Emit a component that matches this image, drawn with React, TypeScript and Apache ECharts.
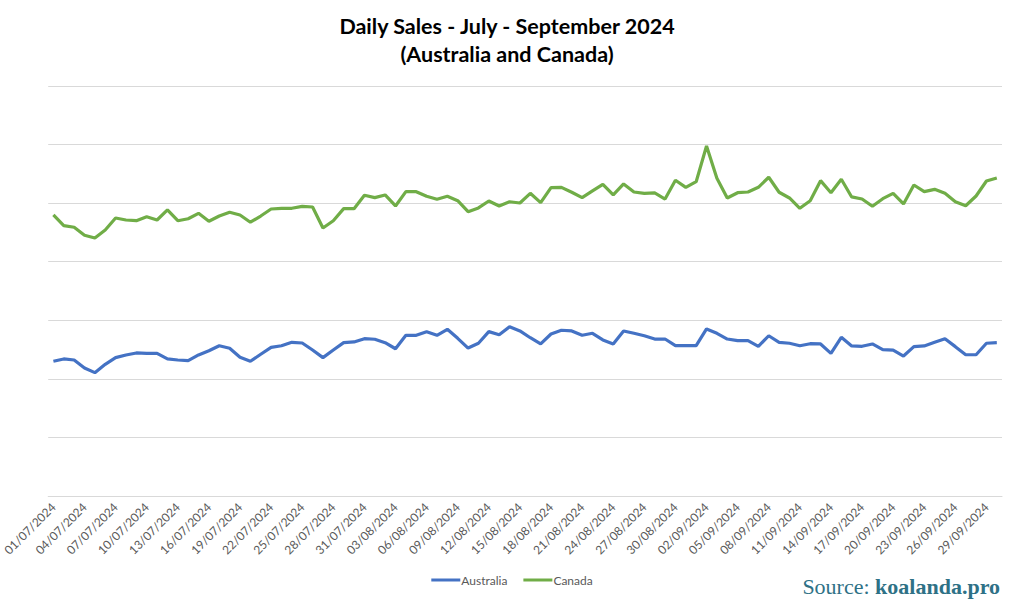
import React, { useEffect, useRef } from "react";
import * as echarts from "echarts";

const TITLE_LINE_1 = "Daily Sales - July - September 2024";
const TITLE_LINE_2 = "(Australia and Canada)";
const SERIES_NAMES = ["Australia", "Canada"];

// Daily categories: 01/07/2024 .. 30/09/2024
const MONTHS: [number, number][] = [
  [7, 31],
  [8, 31],
  [9, 30],
];
const dates: string[] = [];
for (const [m, n] of MONTHS) {
  for (let d = 1; d <= n; d++) {
    dates.push(`${String(d).padStart(2, "0")}/${String(m).padStart(2, "0")}/2024`);
  }
}

const australia = [
  1150, 1170, 1161, 1093, 1053, 1124, 1181, 1204, 1221, 1218,
  1218, 1170, 1161, 1155, 1204, 1240, 1283, 1261, 1184, 1150,
  1210, 1269, 1283, 1312, 1306, 1246, 1181, 1246, 1309, 1315,
  1343, 1338, 1309, 1257, 1372, 1372, 1403, 1372, 1423, 1346,
  1263, 1304, 1403, 1377, 1445, 1409, 1351, 1298, 1383, 1415,
  1409, 1372, 1389, 1332, 1298, 1409, 1389, 1368, 1340, 1340,
  1283, 1283, 1283, 1426, 1389, 1340, 1326, 1326, 1278, 1368,
  1312, 1304, 1283, 1300, 1298, 1218, 1355, 1281, 1278, 1298,
  1249, 1246, 1195, 1275, 1281, 1312, 1343, 1275, 1206, 1206,
  1304, 1309,
];

const canada = [
  2399, 2308, 2294, 2226, 2203, 2271, 2373, 2356, 2350, 2384,
  2356, 2442, 2350, 2367, 2413, 2345, 2390, 2422, 2399, 2337,
  2390, 2450, 2456, 2456, 2473, 2467, 2288, 2350, 2453, 2453,
  2567, 2547, 2570, 2476, 2598, 2598, 2559, 2533, 2559, 2521,
  2427, 2459, 2518, 2476, 2512, 2501, 2584, 2504, 2632, 2635,
  2593, 2547, 2604, 2661, 2570, 2664, 2595, 2584, 2587, 2535,
  2695, 2635, 2683, 2988, 2712, 2544, 2589, 2595, 2635, 2721,
  2593, 2544, 2456, 2521, 2692, 2589, 2704, 2553, 2535, 2473,
  2538, 2584, 2493, 2655, 2598, 2618, 2584, 2512, 2478, 2561,
  2689, 2715,
];

const Y_MIN = 0;
const Y_MAX = 3500;
const Y_STEP = 500;

export default function App() {
  const ref = useRef<HTMLDivElement>(null);

  useEffect(() => {
    document.body.style.margin = "0";
    if (!ref.current) return;
    const chart = echarts.init(ref.current, undefined, { renderer: "svg" });
    const labelFont = "Lato, 'Open Sans', sans-serif";
    const serif = "'Liberation Serif', 'DejaVu Serif', serif";
    const titleStyle = {
      fontFamily: labelFont,
      fontWeight: "bold",
      fontSize: 21.5,
      fill: "#000000",
      align: "center",
      verticalAlign: "middle",
    };
    chart.setOption({
      animation: false,
      backgroundColor: "#ffffff",
      legend: {
        data: SERIES_NAMES,
        bottom: 23,
        left: "center",
        itemWidth: 29,
        itemHeight: 3,
        itemGap: 16,
        icon: "rect",
        textStyle: {
          fontFamily: labelFont,
          fontSize: 12,
          color: "#595959",
          padding: [0, 0, 0, -4],
        },
      },
      grid: {
        left: 46.5,
        right: 22,
        top: 86,
        bottom: 118,
        containLabel: false,
      },
      xAxis: {
        type: "category",
        data: dates,
        boundaryGap: true,
        axisLine: { lineStyle: { color: "#d9d9d9", width: 1 } },
        axisTick: {
          interval: 2,
          length: 5,
          lineStyle: { color: "#d9d9d9" },
        },
        axisLabel: {
          interval: 2,
          rotate: 45,
          margin: 9,
          fontFamily: labelFont,
          fontSize: 12,
          color: "#595959",
        },
      },
      yAxis: {
        type: "value",
        min: Y_MIN,
        max: Y_MAX,
        interval: Y_STEP,
        axisLabel: { show: false },
        axisLine: { show: false },
        axisTick: { show: false },
        splitLine: { lineStyle: { color: "#d9d9d9", width: 1 } },
      },
      series: [
        {
          name: SERIES_NAMES[0],
          type: "line",
          data: australia,
          symbol: "none",
          lineStyle: { color: "#4472C4", width: 3.2 },
          itemStyle: { color: "#4472C4" },
        },
        {
          name: SERIES_NAMES[1],
          type: "line",
          data: canada,
          symbol: "none",
          lineStyle: { color: "#70AD47", width: 3.2 },
          itemStyle: { color: "#70AD47" },
        },
      ],
      graphic: [
        {
          type: "text",
          x: 507,
          y: 26,
          style: { ...titleStyle, text: TITLE_LINE_1 },
        },
        {
          type: "text",
          x: 507,
          y: 54,
          style: { ...titleStyle, text: TITLE_LINE_2 },
        },
        {
          type: "text",
          right: 24,
          top: 575,
          style: {
            text: "{a|Source: }{b|koalanda.pro}",
            fill: "#2e7186",
            rich: {
              a: {
                fontFamily: serif,
                fontSize: 22,
                fill: "#2e7186",
                color: "#2e7186",
              },
              b: {
                fontFamily: serif,
                fontSize: 22,
                fontWeight: "bold",
                fill: "#2e7186",
                color: "#2e7186",
              },
            },
          },
        },
      ],
    });
    return () => chart.dispose();
  }, []);

  return <div ref={ref} style={{ width: 1024, height: 614 }} />;
}
